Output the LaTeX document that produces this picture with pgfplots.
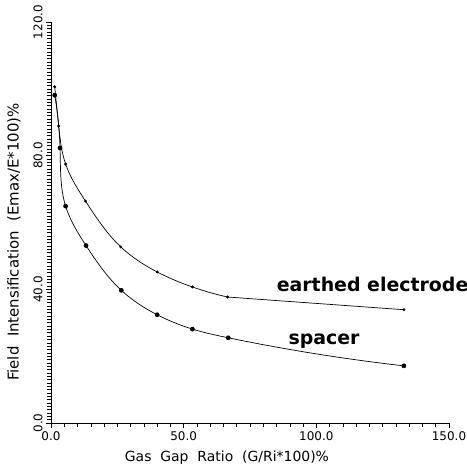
\documentclass[border=0pt]{standalone}
\usepackage{pgfplots}
\pgfplotsset{compat=1.18}
\usetikzlibrary{hobby}
\usepackage{fontspec}
\setmainfont{DejaVu Sans}
\begin{document}
\begin{tikzpicture}
\begin{axis}[
  name=main,
  scale only axis, width=398bp, height=401bp,
  xmin=0, xmax=150, ymin=0, ymax=120,
  axis x line*=bottom, axis y line*=left,
  axis line style={line width=0.8pt},
  xtick={0,50,100,150}, ytick={0,40,80,120},
  minor x tick num=9, minor y tick num=39,
  tick align=outside,
  major tick length=5bp, minor tick length=4bp,
  tick style={black, line width=0.6pt},
  /pgf/number format/assume math mode=true,
  /pgf/number format/.cd, fixed, fixed zerofill, precision=1,
  /pgfplots/.cd,
  ticklabel style={font=\fontsize{12}{14}\selectfont},
  yticklabel style={rotate=90, anchor=south},
  xlabel={Gas\ \ Gap\ \ Ratio\ \ (G/Ri*100)\%},
  ylabel={Field\ \ Intensification\ \ (Emax/E*100)\%},
  xlabel style={font=\fontsize{14}{16}\selectfont, at={([yshift=-35bp]axis description cs:0.442,0)}, anchor=center},
  ylabel style={font=\fontsize{15}{17}\selectfont, at={([xshift=-37bp]axis description cs:0,0.451)}, anchor=center},
  clip=false,
]
% earthed electrode
\addplot[black, line width=0.7pt, hobby, no marks] coordinates {
 (1.4,100.6) (2.9,88.9) (5.5,77.5) (13.0,66.4) (26.3,52.7) (40.0,45.2) (53.3,40.7) (66.5,37.7)
};
\addplot[black, line width=0.7pt, sharp plot, no marks] coordinates {
 (66.5,37.7) (133.0,33.9)
};
\addplot[black, only marks, mark=*, mark size=1.3pt] coordinates {
 (1.4,100.6) (2.9,88.9) (5.5,77.5) (13.0,66.4) (26.3,52.7) (40.0,45.2) (53.3,40.7) (66.5,37.7) (133.0,33.9)
};
% spacer
\addplot[black, line width=0.7pt, hobby, mark=*, mark size=2pt] coordinates {
 (1.4,98.1) (3.4,82.3) (5.5,64.9) (13.2,53.1) (26.5,39.7) (40.0,32.4) (53.3,28.1) (66.8,25.5) (133.0,17.1)
};
\node[font=\bfseries\fontsize{19}{21}\selectfont] at (axis cs:121.2,41.4) {earthed electrode};
\node[font=\bfseries\fontsize{19}{21}\selectfont] at (axis cs:102.9,24.4) {spacer};
\end{axis}
\pgfresetboundingbox
\path[use as bounding box] (main.south west) ++(-51bp,-51bp) rectangle ++(467bp,474bp);
\end{tikzpicture}
\end{document}
